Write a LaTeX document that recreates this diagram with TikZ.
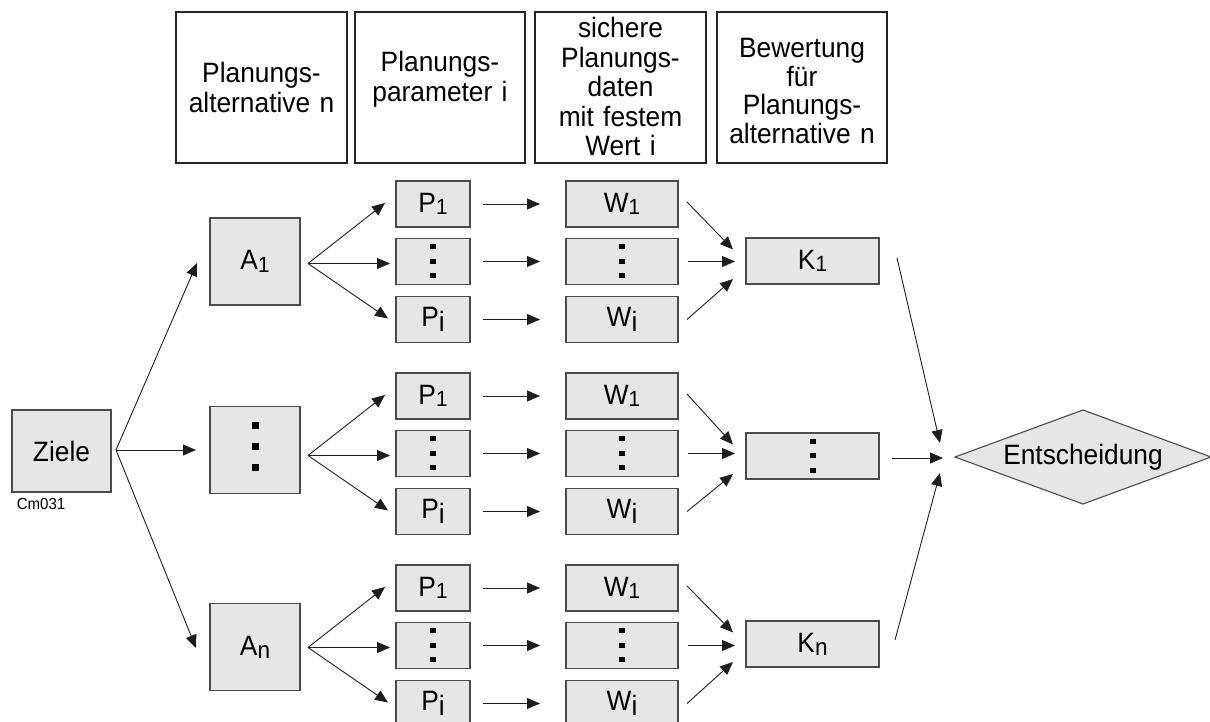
\documentclass[tikz,border=0pt]{standalone}
\usepackage{fontspec}
\setmainfont{Liberation Sans}[FakeStretch=0.94]
\usetikzlibrary{arrows.meta,shapes.geometric,calc}
\definecolor{boxfill}{RGB}{230,230,230}
\definecolor{boxline}{RGB}{75,75,75}
\definecolor{arrowcol}{RGB}{30,30,30}
\newcommand\sbone{\raisebox{-2.5pt}{\fontsize{22}{22}\selectfont 1}}
\newcommand\sbi{\raisebox{-4.5pt}{i}}
\newcommand\sbn{\raisebox{-3pt}{\fontsize{24}{24}\selectfont n}}
\newcommand\sqdots[5]{% node, spacing, width, height, yoffset
  \foreach \k in {-1,0,1} {\fill ($(#1.center)+(-#3/2,#5+\k*#2-#4/2)$) rectangle ++(#3,#4);}}
\begin{document}
\begin{tikzpicture}[x=1pt,y=-1pt,
  every node/.style={font=\fontsize{28}{29.4}\selectfont, inner sep=0pt, outer sep=0pt},
  hdr/.style={draw=black!85, line width=1.2pt, fill=white, minimum height=151pt},
  htext/.style={text width=170pt, align=center, anchor=base},
  gbox/.style={draw=boxline, line width=1.1pt, fill=boxfill},
  pbox/.style={gbox, minimum width=74pt, minimum height=46pt},
  wbox/.style={gbox, minimum width=112pt, minimum height=46pt},
  kbox/.style={gbox, minimum width=133pt, minimum height=46pt},
  abox/.style={gbox, minimum width=90pt, minimum height=87pt},
  arr/.style={draw=arrowcol, line width=0.9pt, -{Triangle[length=13pt,width=11pt]}},
]
\useasboundingbox (0,0) rectangle (1210,722);
\clip (0,0) rectangle (1210,722);

% header boxes
\node[hdr, minimum width=171pt] (h1) at (261.5,87.5) {};
\node[hdr, minimum width=170pt] (h2) at (440,87.5) {};
\node[hdr, minimum width=171pt] (h3) at (620.5,87.5) {};
\node[hdr, minimum width=170pt] (h4) at (802,87.5) {};
\node[htext] (t1) at (261.5,83) {Planungs-\\alternative n};
\node[htext] (t2) at (440,72) {Planungs-\\parameter i};
\node[htext] (t3) at (620.5,38) {sichere\\Planungs-\\daten\\mit festem\\Wert i};
\node[htext, font=\fontsize{28}{28.5}\selectfont] (t4) at (802,58) {Bewertung\\für\\Planungs-\\alternative n};

% Ziele
\node[gbox, minimum width=99pt, minimum height=82pt] (Z) at (61.5,451) {Ziele};
\node[font=\fontsize{16}{16}\selectfont] (cm) at (41,504) {Cm031};

% A boxes
\node[abox] (A1) at (255,261.5) {A\sbone};
\node[abox] (A2) at (255,450) {};
\node[abox] (A3) at (255,647) {A\sbn};
\sqdots{A2}{21}{7}{7}{-4}

% K boxes
\node[kbox] (K1) at (812.5,261) {K\sbone};
\node[kbox] (K2) at (812.5,456) {};
\node[kbox] (K3) at (812.5,644) {K\sbn};
\sqdots{K2}{14.5}{6}{5}{-0.5}

% Entscheidung
\node[diamond, aspect=2.72, draw=boxline, line width=1.1pt, fill=boxfill,
      minimum width=256pt, minimum height=94pt] (E) at (1083,457) {Entscheidung};

% P and W rows
\foreach \r in {1,2,3} {
  \pgfmathsetmacro\yb{204+192*(\r-1)}
  \node[pbox] (P\r-a) at (433,\yb) {P\sbone};
  \node[pbox] (P\r-d) at (433,\yb+57.5) {};
  \node[pbox] (P\r-i) at (433,\yb+115.5) {P\sbi};
  \node[wbox] (W\r-a) at (622,\yb) {W\sbone};
  \node[wbox] (W\r-d) at (622,\yb+57.5) {};
  \node[wbox] (W\r-i) at (622,\yb+115.5) {W\sbi};
  \sqdots{P\r-d}{14.5}{6}{5}{-0.5}
  \sqdots{W\r-d}{14.5}{6}{5}{-0.5}
  % fan from A
  \coordinate (o\r) at ($(A\r.east |- P\r-d.center)+(8,2)$);
  \draw[arr] (o\r) -- ($(P\r-a.west)+(-11,-1)$);
  \draw[arr] (o\r) -- ($(P\r-d.west)+(-6,2)$);
  \draw[arr] (o\r) -- ($(P\r-i.west)+(-8,-1)$);
  % P -> W
  \draw[arr, shorten <=13pt, shorten >=26pt] (P\r-a) -- (W\r-a);
  \draw[arr, shorten <=13pt, shorten >=26pt] (P\r-d) -- (W\r-d);
  \draw[arr, shorten <=13pt, shorten >=26pt] (P\r-i) -- (W\r-i);
  % W -> K
  \draw[arr] ($(W\r-a.east)+(9,-2)$) -- ($(K\r.west)+(-13,-11.5)$);
  \draw[arr] ($(W\r-d.east)+(10,0)$) -- ($(K\r.west |- W\r-d.east)+(-11,0)$);
  \draw[arr] ($(W\r-i.east)+(9,0)$) -- ($(K\r.west)+(-13,18)$);
}

% Ziele -> A
\coordinate (zs) at ($(Z.east)+(5,-1)$);
\draw[arr] (zs) -- ($(A1.west)+(-13,1.5)$);
\draw[arr] (zs) -- ($(A2.west)+(-14,0)$);
\draw[arr] (zs) -- ($(A3.west)+(-14,1)$);

% K -> Entscheidung
\draw[arr] ($(K1.east)+(18,-3)$) -- ($(E.west)+(-15,-14)$);
\draw[arr] ($(K2.east)+(13,2)$) -- ($(E.west)+(-12,1)$);
\draw[arr] ($(K3.east)+(16,-4)$) -- ($(E.west)+(-15,16)$);
\end{tikzpicture}
\end{document}
